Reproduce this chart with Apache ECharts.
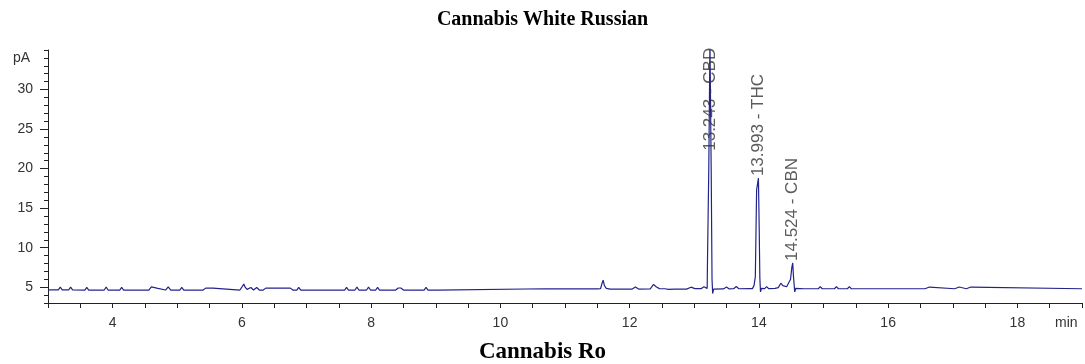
<!DOCTYPE html>
<html>
<head>
<meta charset="utf-8">
<title>Cannabis White Russian</title>
<script src="https://cdn.jsdelivr.net/npm/echarts@6/dist/echarts.min.js"></script>
<style>
  html, body { margin: 0; padding: 0; background: #fff; }
  #chart { width: 1085px; height: 364px; }
</style>
</head>
<body>
<div id="chart"></div>
<script>
// FID trace as [retention time (min), signal (pA)], split by region

// 3 - 11.5 min: baseline with small disturbances
const traceEarly = [
  [3.00, 4.66],
  [3.16, 4.66], [3.19, 5.00], [3.22, 4.66],
  [3.32, 4.66], [3.35, 5.00], [3.38, 4.66],
  [3.57, 4.64], [3.60, 4.98], [3.63, 4.64],
  [3.87, 4.64], [3.90, 5.00], [3.93, 4.64],
  [4.11, 4.64], [4.14, 4.98], [4.17, 4.64],
  [4.56, 4.64], [4.60, 5.05], [4.63, 4.86], [4.70, 4.86], [4.73, 4.64],
  [4.82, 4.64], [4.86, 5.05], [4.90, 4.64],
  [5.04, 4.64], [5.07, 4.98], [5.10, 4.64],
  [5.40, 4.64], [5.44, 4.88], [5.55, 4.88], [5.58, 4.64],
  [5.97, 4.64], [6.00, 5.00], [6.03, 5.40], [6.05, 5.00], [6.08, 4.72],
  [6.14, 4.96], [6.18, 4.64], [6.23, 4.96], [6.27, 4.64],
  [6.33, 4.64], [6.37, 4.88], [6.54, 4.88], [6.57, 5.05], [6.60, 4.88],
  [6.69, 4.88], [6.72, 5.02], [6.75, 4.88], [6.79, 4.64],
  [6.85, 4.64], [6.88, 4.98], [6.91, 4.64],
  [7.59, 4.64], [7.62, 4.98], [7.65, 4.64],
  [7.75, 4.64], [7.78, 5.00], [7.81, 4.64],
  [7.93, 4.64], [7.96, 5.00], [7.99, 4.64],
  [8.07, 4.64], [8.10, 4.98], [8.13, 4.64],
  [8.38, 4.64], [8.42, 4.90], [8.46, 4.90], [8.50, 4.64],
  [8.82, 4.64], [8.85, 4.98], [8.88, 4.64],
  [9.03, 4.64], [9.06, 4.80],
  [10.70, 4.80], [10.73, 4.76], [11.50, 4.78]
];

// 11.5 - 14.6 min: minor peaks and the cannabinoids
const traceMid = [
  [11.55, 4.80], [11.57, 5.40], [11.59, 5.90], [11.61, 5.20], [11.64, 4.85], [11.70, 4.76],
  [12.04, 4.76], [12.09, 5.02], [12.14, 4.76],
  [12.32, 4.78], [12.37, 5.35], [12.41, 5.05], [12.46, 4.82], [12.55, 4.80],
  [12.60, 4.72], [12.70, 4.76], [12.88, 4.76], [12.95, 5.00], [13.01, 4.82],
  [13.11, 4.82], [13.15, 5.05], [13.18, 4.80], [13.20, 4.85],
  [13.205, 8.40], [13.215, 8.40], [13.225, 20.0], [13.243, 36.0], [13.262, 20.0],
  [13.275, 6.00], [13.285, 4.20], [13.30, 4.75],
  [13.45, 4.78], [13.50, 5.02], [13.54, 4.78], [13.61, 4.80], [13.65, 5.08], [13.69, 4.80],
  [13.85, 4.82], [13.90, 4.82], [13.925, 5.20], [13.945, 6.30], [13.965, 17.3],
  [13.993, 18.8], [14.005, 12.5], [14.015, 6.20], [14.025, 4.40], [14.04, 4.85],
  [14.09, 4.82], [14.12, 5.08], [14.15, 4.82], [14.25, 4.85],
  [14.30, 4.95], [14.34, 5.50], [14.37, 5.20], [14.40, 5.35], [14.43, 5.05],
  [14.46, 5.30], [14.49, 6.00], [14.51, 7.50], [14.524, 8.06], [14.535, 6.40],
  [14.545, 6.20], [14.555, 4.40], [14.57, 4.85]
];

// 14.6 - 19 min: baseline after elution
const traceLate = [
  [14.70, 4.80],
  [14.92, 4.80], [14.95, 5.08], [14.98, 4.80],
  [15.17, 4.80], [15.20, 5.08], [15.23, 4.80],
  [15.37, 4.80], [15.40, 5.06], [15.43, 4.80],
  [15.85, 4.80], [15.88, 4.58], [15.91, 4.80],
  [16.57, 4.80], [16.60, 5.02], [16.64, 5.02], [16.67, 4.80],
  [17.03, 4.80], [17.06, 5.02], [17.10, 5.02], [17.13, 4.80],
  [17.21, 4.80], [17.24, 5.02], [17.28, 5.02], [17.31, 4.80],
  [19.00, 4.80]
];

// Integrated peaks
const peakTimes = [13.243, 13.993, 14.524];
const peakNames = ['CBD', 'THC', 'CBN'];

// Axis ticks
const xTickLabels = [4, 6, 8, 10, 12, 14, 16, 18];
const yTickLabels = [5, 10, 15, 20, 25, 30];
const X_MIN = 3, X_MAX = 19, Y_MIN = 3, Y_MAX = 35;

const chartTitle = 'Cannabis White Russian';
const nextTitle = 'Cannabis Ro';
const yUnit = 'pA';
const xUnit = 'min';

const trace = traceEarly.concat(traceMid, traceLate);

// Height at each peak apex, looked up from the trace
const peakHeights = peakTimes.map(t => trace.find(p => p[0] === t)[1]);
// A rotated peak label needs about this many pA of room above its anchor;
// labels of off-scale peaks are pulled down so they stay inside the plot.
const labelRoom = 13.0;
const labelPoints = peakTimes.map((t, i) => ({
  value: [t, Math.min(peakHeights[i], Y_MAX - labelRoom)],
  name: peakNames[i]
}));

const sans = '"Liberation Sans", Arial, sans-serif';
const serif = '"Liberation Serif", "Times New Roman", serif';
const axisColor = '#222';
const textColor = '#333';

const chart = echarts.init(document.getElementById('chart'));
chart.setOption({
  animation: false,
  title: [
    {
      text: chartTitle, left: 'center', top: 5,
      textStyle: { fontFamily: serif, fontWeight: 'bold', fontSize: 20, color: '#000' }
    },
    {
      text: nextTitle, left: 'center', top: 336,
      textStyle: { fontFamily: serif, fontWeight: 'bold', fontSize: 23, color: '#000' }
    }
  ],
  grid: { left: 48, right: 0, top: 50, bottom: 61, containLabel: false },
  xAxis: {
    type: 'value', min: X_MIN, max: X_MAX, interval: 0.5,
    axisLine: { show: true, onZero: false, lineStyle: { color: axisColor, width: 1 } },
    axisTick: { show: true, length: 5, lineStyle: { color: axisColor } },
    axisLabel: {
      margin: 13, fontFamily: sans, fontSize: 14, color: textColor,
      formatter: v => (xTickLabels.includes(v) ? String(v) : '')
    },
    splitLine: { show: false }
  },
  yAxis: [
    {
      type: 'value', min: Y_MIN, max: Y_MAX, interval: 1,
      axisLine: { show: true, onZero: false, lineStyle: { color: axisColor, width: 1 } },
      axisTick: { show: true, length: 4, lineStyle: { color: axisColor } },
      axisLabel: { show: false },
      splitLine: { show: false }
    },
    {
      type: 'value', min: Y_MIN, max: Y_MAX, position: 'left',
      axisLine: { show: false },
      axisTick: { show: true, length: 8, customValues: yTickLabels, lineStyle: { color: axisColor } },
      axisLabel: {
        show: true, margin: 15, customValues: yTickLabels,
        fontFamily: sans, fontSize: 14, color: textColor
      },
      splitLine: { show: false }
    }
  ],
  graphic: [
    {
      type: 'text', left: 13, top: 51,
      style: { text: yUnit, font: '14px ' + sans, fill: textColor }
    },
    {
      type: 'text', left: 1055, top: 316,
      style: { text: xUnit, font: '14px ' + sans, fill: textColor }
    }
  ],
  series: [
    {
      type: 'line', data: trace, yAxisIndex: 0,
      showSymbol: false, symbol: 'none', clip: true,
      lineStyle: { color: '#23238c', width: 1.2 },
      z: 2
    },
    {
      type: 'scatter', data: labelPoints, yAxisIndex: 0,
      symbolSize: 0, silent: true, z: 3,
      label: {
        show: true, position: 'top', distance: 2, rotate: 90,
        align: 'left', verticalAlign: 'middle',
        fontFamily: sans, fontSize: 17, color: textColor,
        formatter: p => p.value[0].toFixed(3) + ' - ' + p.name
      }
    }
  ]
});
</script>
</body>
</html>
